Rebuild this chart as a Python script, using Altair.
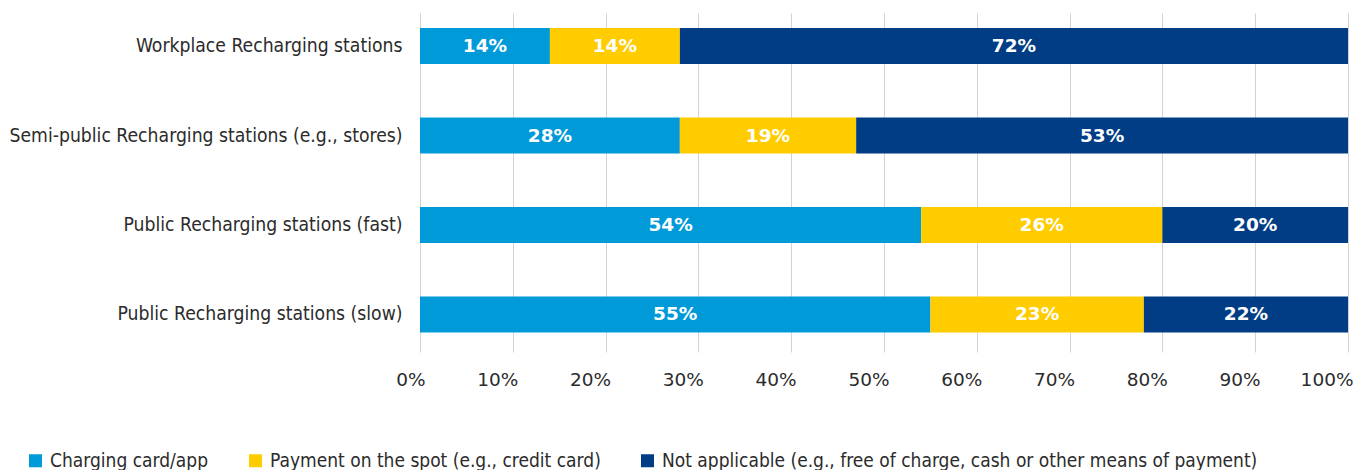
import altair as alt
import pandas as pd

categories = [
    "Workplace Recharging stations",
    "Semi-public Recharging stations (e.g., stores)",
    "Public Recharging stations (fast)",
    "Public Recharging stations (slow)",
]
series = [
    "Charging card/app",
    "Payment on the spot (e.g., credit card)",
    "Not applicable (e.g., free of charge, cash or other means of payment)",
]
card_app = [14, 28, 54, 55]
on_spot = [14, 19, 26, 23]
not_applicable = [72, 53, 20, 22]
tick_values = [0, 10, 20, 30, 40, 50, 60, 70, 80, 90, 100]
colors = ["#009AD9", "#FFCC00", "#003D85"]

rows = []
for si, vals in enumerate([card_app, on_spot, not_applicable]):
    for c, v in zip(categories, vals):
        rows.append({"category": c, "series": series[si], "value": v, "order": si})
df = pd.DataFrame(rows)

COND = "DejaVu Sans Condensed, Liberation Sans Narrow, DejaVu Sans"

base = alt.Chart(df).transform_stack(
    stack="value", as_=["x0", "x1"], groupby=["category"],
    sort=[alt.SortField("order", order="ascending")]
).transform_calculate(
    mid="(datum.x0 + datum.x1) / 2",
    label="datum.value + '%'"
)

y_enc = alt.Y(
    "category:N", sort=categories,
    scale=alt.Scale(paddingInner=0.598, paddingOuter=0.193, align=0.435),
    axis=alt.Axis(title=None, domain=False, ticks=False, labelFont=COND,
                  labelFontSize=19.2, labelColor="#2B2B2B", labelPadding=18,
                  labelLimit=600),
)

bars = base.mark_bar().encode(
    y=y_enc,
    x=alt.X("x0:Q", scale=alt.Scale(domain=[0, 100], nice=False),
            axis=alt.Axis(title=None, values=tick_values, grid=True,
                          gridColor="#D3D3D3", gridWidth=1, domain=False,
                          ticks=False, labelExpr="datum.value + '%'",
                          labelAlign="right", labelOffset=5, labelFont="DejaVu Sans",
                          labelFontSize=18.5, labelColor="#2B2B2B",
                          labelPadding=18)),
    x2="x1:Q",
    color=alt.Color("series:N", sort=series,
                    scale=alt.Scale(domain=series, range=colors),
                    legend=alt.Legend(title=None, orient="none", legendX=-394,
                                      legendY=438, direction="horizontal",
                                      symbolType="square", symbolSize=169,
                                      symbolStrokeWidth=0, labelFont=COND,
                                      labelFontSize=19, labelColor="#2B2B2B",
                                      labelOffset=5, columnPadding=37,
                                      padding=0, labelLimit=1000)),
)

text = base.mark_text(color="white", font="DejaVu Sans", fontWeight="bold",
                      fontSize=18.5).encode(
    y=alt.Y("category:N", sort=categories),
    x=alt.X("mid:Q"),
    text="label:N",
)

chart = alt.layer(bars, text).properties(
    width=928, height=339,
    autosize=alt.AutoSizeParams(type="none"),
    padding={"left": 412, "top": 5, "right": 5, "bottom": 121},
).configure_view(stroke=None)

chart.save("out.html", embed_options={"renderer": "svg", "actions": False})
